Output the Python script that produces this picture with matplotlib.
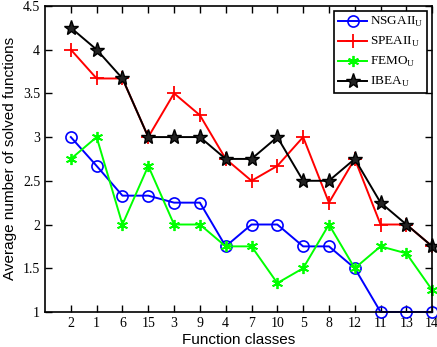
import matplotlib
matplotlib.use('Agg')
import matplotlib.pyplot as plt
import numpy as np

classes = ['2', '1', '6', '15', '3', '9', '4', '7', '10', '5', '8', '12', '11', '13', '14']
nsgaii = [3, 2.67, 2.33, 2.33, 2.25, 2.25, 1.75, 2, 2, 1.75, 1.75, 1.5, 1, 1, 1]
speaii = [4, 3.67, 3.67, 3, 3.5, 3.25, 2.75, 2.5, 2.67, 3, 2.25, 2.75, 2, 2, 1.75]
femo = [2.75, 3, 2, 2.67, 2, 2, 1.75, 1.75, 1.33, 1.5, 2, 1.5, 1.75, 1.67, 1.25]
ibea = [4.25, 4, 3.67, 3, 3, 3, 2.75, 2.75, 3, 2.5, 2.5, 2.75, 2.25, 2, 1.75]

serif = 'Liberation Serif'
sans = 'Liberation Sans'

fig = plt.figure(figsize=(4.37, 3.47), dpi=100)
ax = fig.add_axes([0.103, 0.101, 0.886, 0.882])

x = np.arange(1, len(classes) + 1)
ax.plot(x, nsgaii, color='#0000ff', marker='o', markersize=8, markerfacecolor='none',
        markeredgewidth=1.2, lw=1.4, label=r'NSGAII$_\mathregular{U}$', clip_on=False)
ax.plot(x, speaii, color='#ff0000', marker='+', markersize=10, markeredgewidth=1.3,
        lw=1.4, label=r'SPEAII$_\mathregular{U}$', clip_on=False)
ax.plot(x, femo, color='#00ff00', marker=(6, 2, 0), markersize=8, markeredgewidth=1.3,
        lw=1.4, label=r'FEMO$_\mathregular{U}$', clip_on=False)
ax.plot(x, ibea, color='black', marker='*', markersize=11, markerfacecolor='#222222',
        markeredgewidth=1.0, lw=1.4, label=r'IBEA$_\mathregular{U}$', clip_on=False)

ax.set_xlim(0, 15)
ax.set_ylim(1, 4.5)
ax.set_xticks(x)
ax.set_xticklabels(classes, fontfamily=serif, fontsize=10)
ax.set_yticks([1, 1.5, 2, 2.5, 3, 3.5, 4, 4.5])
ax.set_yticklabels(['1', '1.5', '2', '2.5', '3', '3.5', '4', '4.5'], fontfamily=serif, fontsize=10)
ax.tick_params(direction='in', top=True, right=True, length=5, width=1)
for s in ax.spines.values():
    s.set_linewidth(1.2)

ax.set_xlabel('Function classes', fontfamily=sans, fontsize=11, labelpad=2)
ax.set_ylabel('Average number of solved functions', fontfamily=sans, fontsize=11, labelpad=4)

leg = ax.legend(loc='upper right', prop={'family': serif, 'size': 9.5}, fancybox=False,
                edgecolor='black', framealpha=1, handlelength=2.2, borderpad=0.3,
                labelspacing=0.45, handletextpad=0.2, borderaxespad=0.4)
leg.get_frame().set_linewidth(1.2)

fig.savefig('out.png', dpi=100)
